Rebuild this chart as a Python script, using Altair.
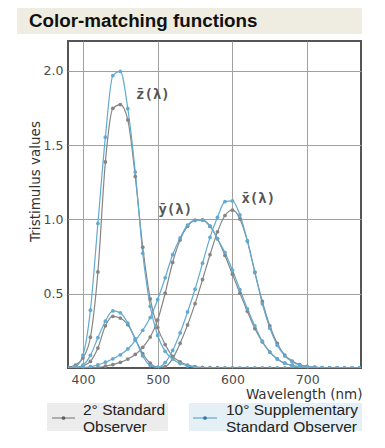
import altair as alt
import pandas as pd

# ---- data (CIE colour-matching functions, read at 10 nm steps) ----
wavelength = list(range(380, 780, 10))

x_2deg = [0.001, 0.004, 0.014, 0.044, 0.134, 0.284, 0.348, 0.336, 0.291, 0.195,
          0.096, 0.032, 0.005, 0.009, 0.063, 0.166, 0.290, 0.433, 0.595, 0.762,
          0.916, 1.026, 1.062, 1.003, 0.854, 0.642, 0.448, 0.284, 0.165, 0.087,
          0.047, 0.023, 0.011, 0.006, 0.003, 0.001, 0.001, 0.000, 0.000, 0.000]
y_2deg = [0.000, 0.000, 0.000, 0.001, 0.004, 0.012, 0.023, 0.038, 0.060, 0.091,
          0.139, 0.208, 0.323, 0.503, 0.710, 0.862, 0.954, 0.995, 0.995, 0.952,
          0.870, 0.757, 0.631, 0.503, 0.381, 0.265, 0.175, 0.107, 0.061, 0.032,
          0.017, 0.008, 0.004, 0.002, 0.001, 0.001, 0.000, 0.000, 0.000, 0.000]
z_2deg = [0.006, 0.020, 0.068, 0.207, 0.646, 1.386, 1.747, 1.772, 1.669, 1.288,
          0.813, 0.465, 0.272, 0.158, 0.078, 0.042, 0.020, 0.009, 0.004, 0.002,
          0.002, 0.001, 0.001, 0.000, 0.000, 0.000, 0.000, 0.000, 0.000, 0.000,
          0.000, 0.000, 0.000, 0.000, 0.000, 0.000, 0.000, 0.000, 0.000, 0.000]

x_10deg = [0.000, 0.002, 0.019, 0.085, 0.204, 0.315, 0.384, 0.371, 0.302, 0.196,
           0.081, 0.016, 0.004, 0.037, 0.118, 0.236, 0.377, 0.530, 0.705, 0.879,
           1.014, 1.119, 1.124, 1.030, 0.856, 0.647, 0.432, 0.268, 0.153, 0.081,
           0.041, 0.020, 0.010, 0.005, 0.002, 0.001, 0.001, 0.000, 0.000, 0.000]
y_10deg = [0.000, 0.000, 0.002, 0.009, 0.021, 0.039, 0.062, 0.089, 0.128, 0.185,
           0.254, 0.339, 0.461, 0.607, 0.762, 0.875, 0.962, 0.992, 0.997, 0.956,
           0.869, 0.777, 0.658, 0.528, 0.398, 0.283, 0.180, 0.108, 0.060, 0.032,
           0.016, 0.008, 0.004, 0.002, 0.001, 0.000, 0.000, 0.000, 0.000, 0.000]
z_10deg = [0.001, 0.010, 0.086, 0.389, 0.973, 1.553, 1.967, 1.995, 1.745, 1.318,
           0.772, 0.415, 0.219, 0.112, 0.061, 0.030, 0.014, 0.004, 0.000, 0.000,
           0.000, 0.000, 0.000, 0.000, 0.000, 0.000, 0.000, 0.000, 0.000, 0.000,
           0.000, 0.000, 0.000, 0.000, 0.000, 0.000, 0.000, 0.000, 0.000, 0.000]

observers = ["2° Standard Observer", "10° Supplementary Standard Observer"]
functions = ["x", "y", "z"]

curve_labels = ["z\u0304(\u03bb)", "y\u0304(\u03bb)", "x\u0304(\u03bb)"]
label_wl = [471, 501, 612]
label_val = [1.84, 1.06, 1.14]

x_ticks = [400, 500, 600, 700]
y_ticks = [0.5, 1.0, 1.5, 2.0]

title_text = "Color-matching functions"
legend_left = ["2° Standard", "Observer"]
legend_right = ["10° Supplementary", "Standard Observer"]

# ---- build long table ----
rows = []
series = {
    (observers[0], "x"): x_2deg, (observers[0], "y"): y_2deg, (observers[0], "z"): z_2deg,
    (observers[1], "x"): x_10deg, (observers[1], "y"): y_10deg, (observers[1], "z"): z_10deg,
}
for (obs, fn), vals in series.items():
    for w, v in zip(wavelength, vals):
        rows.append({"wl": w, "val": v, "observer": obs, "fn": fn, "key": obs + fn})
df = pd.DataFrame(rows)
lab_df = pd.DataFrame({"wl": label_wl, "val": label_val, "text": curve_labels})

GRAY_LINE = "#858585"
GRAY_DOT = "#5e5e5e"
BLUE_LINE = "#62aad0"
BLUE_DOT = "#2a77a6"

xs = alt.Scale(domain=[380, 772], nice=False, zero=False)
ys = alt.Scale(domain=[0, 2.2], nice=False)

X = alt.X("wl:Q", scale=xs, axis=alt.Axis(
    values=x_ticks, grid=True, ticks=False, domain=False, labelPadding=5,
    labelFont="DejaVu Sans", labelFontSize=12.5, labelColor="#4a4a4a",
    title="Wavelength (nm)", titleFont="DejaVu Sans", titleFontSize=13.5,
    titleFontWeight="normal", titleColor="#333333", titleAnchor="end",
    titleAlign="right", titleBaseline="middle", titleX=294, titleY=26))
Y = alt.Y("val:Q", scale=ys, axis=alt.Axis(
    values=y_ticks, format=".1f", grid=True, ticks=False, domain=False,
    labelPadding=5, labelFont="DejaVu Sans", labelFontSize=12.5,
    labelColor="#4a4a4a", title="Tristimulus values", titleFont="DejaVu Sans",
    titleFontSize=13.5, titleFontWeight="normal", titleColor="#333333",
    titleAngle=270, titleAlign="center", titleBaseline="middle",
    titleX=-33, titleY=140))

line_color = alt.Color("observer:N", scale=alt.Scale(domain=observers, range=[GRAY_LINE, BLUE_LINE]), legend=None)
dot_color = alt.Color("observer:N", scale=alt.Scale(domain=observers, range=[GRAY_DOT, BLUE_DOT]), legend=None)

base = alt.Chart(df)
lines = base.mark_line(interpolate="monotone", strokeWidth=1.2, clip=True).encode(
    x=X, y=Y, color=line_color, detail="key:N")
dots = base.mark_circle(size=14, opacity=1, clip=True).encode(
    x="wl:Q", y="val:Q", color=dot_color, detail="key:N")

labels = alt.Chart(lab_df).mark_text(
    align="left", baseline="middle", font="DejaVu Sans Mono", fontSize=14,
    fontWeight="bold", color="#555555").encode(x="wl:Q", y="val:Q", text="text:N")

one = pd.DataFrame({"title": [title_text],
                    "l1": [legend_left[0]], "l2": [legend_left[1]],
                    "r1": [legend_right[0]], "r2": [legend_right[1]]})
deco = alt.Chart(one)
banner = deco.mark_rect(color="#efece1").encode(
    x=alt.value(-51), x2=alt.value(294), y=alt.value(-34), y2=alt.value(-7))
title = deco.mark_text(align="left", baseline="middle", font="Liberation Sans",
                       fontSize=18.8, fontWeight="bold", color="#111111").encode(
    x=alt.value(-39), y=alt.value(-20.5), text="title:N")

box_l = deco.mark_rect(color="#ececec").encode(
    x=alt.value(-21), x2=alt.value(100), y=alt.value(362), y2=alt.value(390))
box_r = deco.mark_rect(color="#e5eff6").encode(
    x=alt.value(121), x2=alt.value(294), y=alt.value(362), y2=alt.value(390))
sym_l = deco.mark_rule(color=GRAY_LINE, strokeWidth=1.2).encode(
    x=alt.value(-16), x2=alt.value(7), y=alt.value(377))
sym_r = deco.mark_rule(color=BLUE_LINE, strokeWidth=1.2).encode(
    x=alt.value(125), x2=alt.value(149), y=alt.value(377))
dot_l = deco.mark_circle(size=14, color=GRAY_DOT, opacity=1).encode(
    x=alt.value(-4.5), y=alt.value(377))
dot_r = deco.mark_circle(size=14, color=BLUE_DOT, opacity=1).encode(
    x=alt.value(137), y=alt.value(377))

def legend_text(field, xpos, ypos):
    return deco.mark_text(align="left", baseline="middle", font="Liberation Sans",
                          fontSize=15.5, color="#222222").encode(
        x=alt.value(xpos), y=alt.value(ypos), text=f"{field}:N")

txt_l1 = legend_text("l1", 15, 369)
txt_l2 = legend_text("l2", 15, 386)
txt_r1 = legend_text("r1", 158, 369)
txt_r2 = legend_text("r2", 158, 386)

chart = alt.layer(
    banner, title, box_l, box_r, sym_l, sym_r, dot_l, dot_r,
    txt_l1, txt_l2, txt_r1, txt_r2,
    lines, dots, labels
).properties(
    width=293, height=327,
    autosize=alt.AutoSizeParams(type="none"),
    padding={"left": 60, "top": 33, "right": 10, "bottom": 80},
    background="white",
).configure_view(
    stroke="#555555", strokeWidth=2
).configure_axis(
    gridColor="#a0a0a0", gridWidth=1, gridOpacity=1
)

chart.save("out.html", embed_options={"renderer": "svg", "actions": False})
